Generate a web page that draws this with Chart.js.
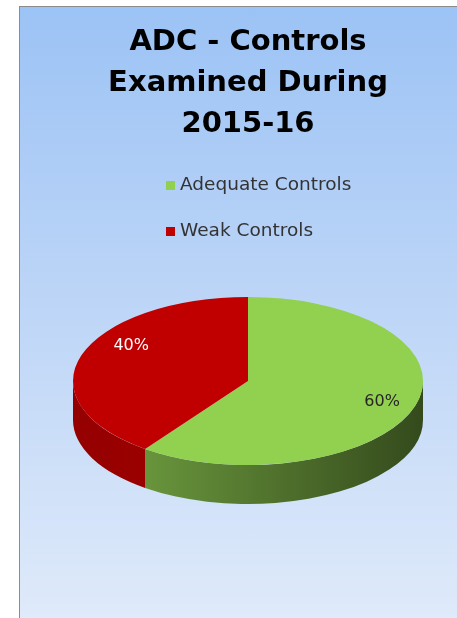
<!DOCTYPE html>
<html>
<head>
<meta charset="utf-8">
<script src="https://cdn.jsdelivr.net/npm/chart.js@4"></script>
<style>
  html, body { margin: 0; padding: 0; width: 457px; height: 618px; overflow: hidden; background: #fff; }
  #box {
    position: absolute; left: 19px; top: 6px;
    width: 456px; height: 612px;
    border-left: 1px solid #8c8c8c; border-top: 1px solid #8c8c8c;
    background: linear-gradient(to bottom, #9cc3f5 0%, #bed6f7 50%, #dfeafa 100%);
  }
  #chart { display: block; }
</style>
</head>
<body>
<div id="box"><canvas id="chart" width="456" height="612"></canvas></div>
<script>
// ── Data ──
const categories = ['Adequate Controls', 'Weak Controls'];
const shares = [60, 40];
const sliceColors = ['#92D050', '#C00000'];
const titleLines = ['ADC - Controls', 'Examined During', '2015-16'];

const FONT = '"DejaVu Sans", sans-serif';

// ── Fake 3D pie: squash the top face, draw the rim underneath ──
const pie3d = {
  id: 'pie3d',
  beforeDatasetsDraw(chart, args, o) {
    const ctx = chart.ctx;
    const arcs = chart.getDatasetMeta(0).data;
    if (!arcs.length) return;
    const p0 = arcs[0].getProps(['x', 'y', 'outerRadius'], true);
    ctx.save();
    ctx.translate(p0.x, o.centerY);
    ctx.scale(1, o.k);
    ctx.translate(-p0.x, -p0.y);
    const D = o.depth / o.k;
    arcs.forEach((el, i) => {
      const p = el.getProps(['x', 'y', 'startAngle', 'endAngle', 'outerRadius'], true);
      const a0 = Math.max(p.startAngle, 0), a1 = Math.min(p.endAngle, Math.PI);
      if (a1 <= a0) return;
      const g = ctx.createLinearGradient(p.x - p.outerRadius, 0, p.x + p.outerRadius, 0);
      g.addColorStop(0, o.sideColors[i][0]);
      g.addColorStop(1, o.sideColors[i][1]);
      ctx.beginPath();
      ctx.arc(p.x, p.y, p.outerRadius, a0, a1);
      ctx.arc(p.x, p.y + D, p.outerRadius, a1, a0, true);
      ctx.closePath();
      ctx.fillStyle = g;
      ctx.fill();
    });
  },
  afterDatasetsDraw(chart, args, o) {
    const ctx = chart.ctx;
    ctx.restore();
    const ds = chart.data.datasets[0];
    const total = ds.data.reduce((a, b) => a + b, 0);
    chart.getDatasetMeta(0).data.forEach((el, i) => {
      const p = el.getProps(['x', 'startAngle', 'endAngle', 'outerRadius'], true);
      const mid = (p.startAngle + p.endAngle) / 2;
      const r = p.outerRadius * o.labelPos[i];
      const lx = p.x + Math.cos(mid) * r + o.labelShift[i][0];
      const ly = o.centerY + Math.sin(mid) * r * o.k + o.labelShift[i][1];
      ctx.save();
      ctx.font = '16px ' + FONT;
      ctx.fillStyle = o.labelColors[i];
      ctx.textAlign = 'center';
      ctx.textBaseline = 'middle';
      ctx.fillText(Math.round(ds.data[i] / total * 100) + '%', lx, ly);
      ctx.restore();
    });
  }
};

// ── Legend stacked on the left like the original ──
const stackLegend = {
  id: 'stackLegend',
  afterDraw(chart, args, o) {
    const ctx = chart.ctx;
    ctx.save();
    ctx.font = '18.5px ' + FONT;
    ctx.textBaseline = 'middle';
    chart.data.labels.forEach((lab, i) => {
      const y = o.top + i * o.rowGap;
      ctx.fillStyle = chart.data.datasets[0].backgroundColor[i];
      ctx.fillRect(o.left, y - 4.5, 9, 9);
      ctx.fillStyle = '#333';
      ctx.fillText(lab, o.left + 14, y);
    });
    ctx.restore();
  }
};

new Chart(document.getElementById('chart'), {
  type: 'pie',
  data: {
    labels: categories,
    datasets: [{
      data: shares,
      backgroundColor: sliceColors,
      borderWidth: 0,
      clip: false
    }]
  },
  options: {
    responsive: false,
    animation: false,
    events: [],
    layout: { padding: { left: 53, right: 53, top: 0, bottom: 0 } },
    plugins: {
      legend: { display: false },
      tooltip: { enabled: false },
      title: {
        display: true,
        text: titleLines,
        color: '#000',
        font: { family: FONT, size: 29, weight: 'bold', lineHeight: 1.4 },
        padding: { top: 15.5, bottom: 10 }
      },
      pie3d: {
        k: 0.48, depth: 39, centerY: 374,
        sideColors: [['#76a844', '#344a1c'], ['#940000', '#b40000']],
        labelPos: [0.8, 0.72],
        labelShift: [[1, 0], [3, -16]],
        labelColors: ['#262626', '#ffffff']
      },
      stackLegend: { left: 146, top: 178.5, rowGap: 46 }
    }
  },
  plugins: [pie3d, stackLegend]
});
</script>
</body>
</html>
